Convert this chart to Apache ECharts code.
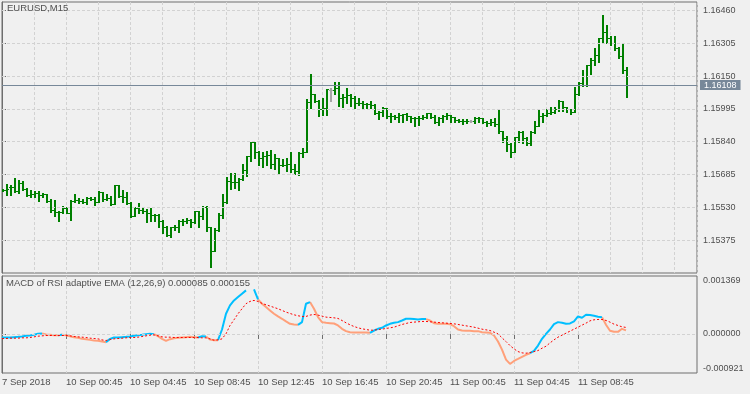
<!DOCTYPE html>
<html><head><meta charset="utf-8">
<script src="https://cdn.jsdelivr.net/npm/echarts@6/dist/echarts.min.js"></script>
<style>html,body{margin:0;padding:0;background:#f0f0f0}#c{width:750px;height:394px}</style>
</head><body><div id="c"></div>
<script>
// ---- data (EURUSD M15 bars, index 0 = first visible bar) ----
const opens=[1.15610,1.15612,1.15624,1.15627,1.15605,1.15643,1.15616,1.15590,1.15591,1.15596,
1.15590,1.15591,1.15561,1.15516,1.15509,1.15507,1.15527,1.15505,1.15561,1.15564,
1.15561,1.15553,1.15575,1.15571,1.15557,1.15602,1.15571,1.15575,1.15546,1.15634,
1.15583,1.15580,1.15552,1.15490,1.15528,1.15517,1.15514,1.15501,1.15495,1.15492,
1.15467,1.15435,1.15397,1.15435,1.15438,1.15467,1.15465,1.15470,1.15460,1.15512,
1.15487,1.15533,1.15435,1.15322,1.15423,1.15495,1.15555,1.15656,1.15648,1.15651,
1.15662,1.15706,1.15773,1.15839,1.15790,1.15762,1.15774,1.15777,1.15737,1.15762,
1.15730,1.15732,1.15737,1.15711,1.15702,1.15787,1.15790,1.16030,1.16064,1.16033,
1.15995,1.15998,1.16083,1.16083,1.16096,1.16045,1.16053,1.16061,1.16045,1.16025,
1.16022,1.16017,1.16020,1.16014,1.15974,1.15979,1.16001,1.15963,1.15962,1.15959,
1.15967,1.15970,1.15963,1.15954,1.15951,1.15954,1.15959,1.15974,1.15959,1.15932,
1.15954,1.15963,1.15967,1.15959,1.15943,1.15938,1.15940,1.15937,1.15937,1.15954,
1.15951,1.15935,1.15930,1.15935,1.15924,1.15892,1.15856,1.15829,1.15793,1.15861,
1.15887,1.15856,1.15832,1.15887,1.15915,1.15962,1.15967,1.15974,1.15982,1.15993,
1.16034,1.16003,1.15993,1.15982,1.16066,1.16120,1.16109,1.16203,1.16227,1.16250,
1.16329,1.16361,1.16329,1.16306,1.16282,1.16246,1.16179];
const highs=[1.15618,1.15640,1.15635,1.15667,1.15659,1.15656,1.15620,1.15612,1.15607,1.15607,
1.15599,1.15591,1.15568,1.15564,1.15512,1.15536,1.15530,1.15564,1.15591,1.15572,
1.15568,1.15577,1.15580,1.15580,1.15607,1.15604,1.15591,1.15583,1.15635,1.15635,
1.15612,1.15604,1.15557,1.15533,1.15549,1.15525,1.15520,1.15525,1.15498,1.15498,
1.15470,1.15441,1.15435,1.15446,1.15470,1.15475,1.15477,1.15473,1.15514,1.15514,
1.15536,1.15536,1.15435,1.15432,1.15501,1.15593,1.15675,1.15691,1.15694,1.15667,
1.15735,1.15773,1.15840,1.15840,1.15796,1.15793,1.15796,1.15801,1.15780,1.15765,
1.15758,1.15765,1.15790,1.15733,1.15790,1.15809,1.16042,1.16161,1.16064,1.16038,
1.16045,1.16090,1.16093,1.16124,1.16121,1.16064,1.16093,1.16064,1.16057,1.16045,
1.16033,1.16025,1.16033,1.16017,1.15985,1.16006,1.16001,1.15974,1.15967,1.15974,
1.15970,1.15974,1.15963,1.15959,1.15963,1.15967,1.15976,1.15976,1.15967,1.15959,
1.15967,1.15974,1.15967,1.15959,1.15948,1.15946,1.15946,1.15943,1.15955,1.15955,
1.15951,1.15940,1.15946,1.15951,1.15990,1.15892,1.15867,1.15832,1.15864,1.15892,
1.15892,1.15864,1.15892,1.15940,1.15993,1.15974,1.15993,1.16003,1.16006,1.16038,
1.16034,1.16003,1.15993,1.16097,1.16124,1.16179,1.16203,1.16235,1.16282,1.16329,
1.16440,1.16392,1.16340,1.16340,1.16290,1.16309,1.16195];
const lows=[1.15605,1.15588,1.15588,1.15604,1.15599,1.15612,1.15583,1.15580,1.15577,1.15561,
1.15580,1.15557,1.15509,1.15490,1.15467,1.15501,1.15504,1.15470,1.15557,1.15552,
1.15549,1.15544,1.15564,1.15541,1.15557,1.15559,1.15564,1.15541,1.15544,1.15580,
1.15557,1.15546,1.15486,1.15489,1.15505,1.15505,1.15462,1.15467,1.15467,1.15438,
1.15410,1.15396,1.15391,1.15423,1.15415,1.15446,1.15457,1.15435,1.15457,1.15435,
1.15473,1.15419,1.15249,1.15322,1.15419,1.15477,1.15552,1.15615,1.15620,1.15612,
1.15659,1.15678,1.15750,1.15765,1.15730,1.15722,1.15730,1.15714,1.15711,1.15691,
1.15727,1.15702,1.15699,1.15686,1.15683,1.15769,1.15790,1.16001,1.16030,1.15963,
1.15967,1.15967,1.16034,1.16064,1.16011,1.16006,1.16025,1.16011,1.16001,1.16014,
1.16001,1.15998,1.15998,1.15971,1.15948,1.15963,1.15951,1.15935,1.15948,1.15935,
1.15932,1.15943,1.15935,1.15916,1.15919,1.15948,1.15951,1.15954,1.15927,1.15919,
1.15935,1.15948,1.15935,1.15932,1.15932,1.15924,1.15927,1.15932,1.15930,1.15934,
1.15927,1.15913,1.15919,1.15915,1.15883,1.15840,1.15798,1.15769,1.15793,1.15840,
1.15836,1.15825,1.15825,1.15883,1.15913,1.15935,1.15962,1.15971,1.15976,1.15987,
1.15987,1.15982,1.15971,1.15982,1.16061,1.16104,1.16104,1.16161,1.16203,1.16219,
1.16309,1.16309,1.16298,1.16274,1.16235,1.16164,1.16053];
const closes=[1.15612,1.15615,1.15627,1.15605,1.15643,1.15616,1.15590,1.15591,1.15596,1.15588,
1.15591,1.15561,1.15517,1.15509,1.15507,1.15527,1.15505,1.15561,1.15564,1.15561,
1.15553,1.15575,1.15571,1.15557,1.15602,1.15571,1.15575,1.15546,1.15634,1.15583,
1.15580,1.15552,1.15490,1.15528,1.15517,1.15514,1.15501,1.15495,1.15492,1.15467,
1.15435,1.15397,1.15435,1.15438,1.15467,1.15465,1.15470,1.15460,1.15512,1.15487,
1.15533,1.15435,1.15322,1.15423,1.15495,1.15555,1.15656,1.15648,1.15651,1.15662,
1.15706,1.15773,1.15839,1.15793,1.15762,1.15774,1.15777,1.15737,1.15762,1.15730,
1.15732,1.15737,1.15711,1.15702,1.15787,1.15790,1.16030,1.16064,1.16033,1.15995,
1.15998,1.16090,1.16083,1.16096,1.16045,1.16053,1.16061,1.16045,1.16025,1.16022,
1.16017,1.16020,1.16014,1.15974,1.15979,1.16001,1.15963,1.15962,1.15959,1.15967,
1.15970,1.15963,1.15954,1.15951,1.15954,1.15959,1.15974,1.15959,1.15932,1.15954,
1.15963,1.15967,1.15959,1.15943,1.15938,1.15940,1.15937,1.15937,1.15954,1.15951,
1.15935,1.15930,1.15935,1.15924,1.15892,1.15856,1.15829,1.15793,1.15861,1.15887,
1.15856,1.15832,1.15887,1.15915,1.15962,1.15967,1.15974,1.15982,1.15993,1.16034,
1.16003,1.15993,1.15982,1.16066,1.16120,1.16109,1.16203,1.16227,1.16250,1.16329,
1.16361,1.16329,1.16306,1.16282,1.16246,1.16179,1.16108];
// MACD of RSI adaptive EMA: main line, signal line, colour state (1 = rising colour)
const macd=[-0.000083,-0.000083,-0.000083,-0.000075,-0.000068,-0.000060,-0.000044,-0.000036,-0.000020,0.000004,
0.000011,-0.000012,-0.000020,-0.000028,-0.000028,-0.000020,-0.000028,-0.000052,-0.000075,-0.000091,
-0.000115,-0.000123,-0.000139,-0.000154,-0.000162,-0.000178,-0.000194,-0.000115,-0.000083,-0.000083,
-0.000075,-0.000068,-0.000060,-0.000044,-0.000028,-0.000020,-0.000004,0.000004,-0.000004,-0.000052,
-0.000115,-0.000162,-0.000123,-0.000099,-0.000091,-0.000083,-0.000075,-0.000068,-0.000075,-0.000083,
-0.000052,-0.000060,-0.000131,-0.000147,-0.000147,0.000106,0.000477,0.000674,0.000793,0.000872,
0.000951,0.001030,null,0.001053,0.000817,0.000714,0.000635,0.000556,0.000477,0.000414,
0.000359,0.000296,0.000240,0.000225,0.000217,0.000280,0.000714,0.000753,0.000596,0.000398,
0.000280,0.000264,0.000256,0.000248,0.000201,0.000122,0.000067,0.000043,0.000035,0.000035,
0.000035,0.000035,0.000027,0.000082,0.000122,0.000146,0.000201,0.000240,0.000264,0.000280,
0.000319,0.000359,0.000359,0.000351,0.000343,0.000351,0.000351,0.000319,0.000256,0.000240,
0.000240,0.000240,0.000232,0.000185,0.000106,0.000082,0.000075,0.000075,0.000067,0.000067,
0.000043,0.000035,0.000027,-0.000036,-0.000178,-0.000368,-0.000604,-0.000707,-0.000636,-0.000589,
-0.000541,-0.000494,-0.000454,-0.000399,-0.000273,-0.000115,0.000004,0.000106,0.000232,0.000280,
0.000264,0.000240,0.000248,0.000296,0.000414,0.000382,0.000453,0.000446,0.000430,0.000406,
0.000398,0.000217,0.000075,0.000051,0.000051,0.000122,0.000085];
const signal=[-0.000107,-0.000107,-0.000099,-0.000099,-0.000099,-0.000091,-0.000091,-0.000083,-0.000068,-0.000052,
-0.000044,-0.000036,-0.000036,-0.000036,-0.000036,-0.000036,-0.000036,-0.000044,-0.000060,-0.000068,
-0.000075,-0.000083,-0.000099,-0.000107,-0.000115,-0.000139,-0.000154,-0.000131,-0.000115,-0.000107,
-0.000099,-0.000091,-0.000083,-0.000083,-0.000075,-0.000060,-0.000044,-0.000028,-0.000020,-0.000044,
-0.000068,-0.000075,-0.000075,-0.000083,-0.000083,-0.000083,-0.000083,-0.000083,-0.000083,-0.000083,
-0.000091,-0.000091,-0.000115,-0.000147,-0.000139,-0.000115,0.000004,0.000201,0.000335,0.000477,
0.000596,0.000714,0.000769,0.000793,0.000769,0.000722,0.000690,0.000659,0.000627,0.000596,
0.000556,0.000517,0.000485,0.000453,0.000430,0.000414,0.000414,0.000446,0.000461,0.000446,
0.000422,0.000398,0.000390,0.000382,0.000367,0.000319,0.000264,0.000217,0.000177,0.000146,
0.000122,0.000106,0.000090,0.000090,0.000106,0.000114,0.000130,0.000146,0.000161,0.000193,
0.000225,0.000248,0.000272,0.000280,0.000288,0.000296,0.000296,0.000288,0.000280,0.000272,
0.000264,0.000256,0.000248,0.000240,0.000225,0.000209,0.000193,0.000177,0.000161,0.000138,
0.000114,0.000098,0.000082,0.000043,0.000004,-0.000091,-0.000178,-0.000273,-0.000352,-0.000415,
-0.000446,-0.000454,-0.000439,-0.000415,-0.000391,-0.000336,-0.000289,-0.000210,-0.000139,-0.000075,
-0.000028,0.000019,0.000067,0.000114,0.000161,0.000209,0.000256,0.000311,0.000335,0.000343,
0.000343,0.000319,0.000280,0.000232,0.000201,0.000169,0.000155];
const macdRising=[1,1,1,1,1,1,1,1,1,1,1, 0,0,0,0, 1, 0,0,0,0,0,0,0,0,0,0,0,
1,1,1,1,1,1,1,1,1,1,1,1, 0,0,0,0,0,0,0,0,0,0,0, 1,1, 0,0,0,
1,1,1,1,1,1,1,1,1,1, 0,0,0,0,0,0,0,0,0,0, 1,1,1,
0,0,0,0,0,0,0,0,0,0,0,0,0,0,0, 1,1,1,1,1,1,1,1,1,1,1,1,1,1,
0,0,0,0,0,0,0,0,0,0,0,0,0,0,0,0,0,0,0,0,0,0,0,0,0,0,
1,1,1,1,1,1,1,1,1,1,1,1,1,1,1,1,1,1, 0,0,0,0,0,0];
const priceTicks=[1.15375,1.15530,1.15685,1.15840,1.15995,1.16150,1.16305,1.16460];
const priceMin=1.15219, priceMax=1.16501;
const lastPrice=1.16108;
const indMin=-0.000921, indMax=0.001369;
const timeTickIdx=[0,16,32,48,64,80,96,112,128,144];
const timeTickText=['7 Sep 2018','10 Sep 00:45','10 Sep 04:45','10 Sep 08:45','10 Sep 12:45','10 Sep 16:45','10 Sep 20:45','11 Sep 00:45','11 Sep 04:45','11 Sep 08:45'];
const symbolLabel='EURUSD,M15';
const indicatorLabel='MACD of RSI adaptive EMA (12,26,9) 0.000085 0.000155';

// ---- build ----
const FONT='"Liberation Sans", Arial, sans-serif';
const TXT='#4f4f4f', BORDER='#6e6e6e', GRIDC='#d2d2d2';
const N=opens.length;
const barData=opens.map((o,i)=>[i,o,highs[i],lows[i],closes[i]]);
const upLine=[], dnLine=[];
for(let i=0;i<N;i++){
  const v=macd[i];
  const nextS=i+1<N?macdRising[i+1]:macdRising[i];
  upLine.push([i,(v!=null&&(macdRising[i]===1||nextS===1))?v:null]);
  dnLine.push([i,(v!=null&&(macdRising[i]===0||nextS===0))?v:null]);
}
const sigData=signal.map((v,i)=>[i,v]);
const xMax=173.75;
const dash=[3,2];

const chart=echarts.init(document.getElementById('c'),null,{renderer:'canvas'});
chart.setOption({
  backgroundColor:'#f0f0f0',
  animation:false,
  textStyle:{fontFamily:FONT},
  grid:[
    {left:2,top:2,width:695,height:271,show:true,borderColor:BORDER,borderWidth:1,backgroundColor:'transparent',outerBoundsMode:'none'},
    {left:2,top:276,width:695,height:97,show:true,borderColor:BORDER,borderWidth:1,backgroundColor:'transparent',outerBoundsMode:'none'}
  ],
  xAxis:[
    {type:'value',gridIndex:0,min:0,max:xMax,interval:8,axisLine:{show:false},axisTick:{show:false},axisLabel:{show:false},
     splitLine:{show:true,lineStyle:{color:GRIDC,type:dash,width:1}}},
    {type:'value',gridIndex:1,min:0,max:xMax,interval:8,axisLine:{show:false},
     axisTick:{show:true,customValues:timeTickIdx,length:5,inside:false,lineStyle:{color:BORDER}},
     axisLabel:{show:true,customValues:timeTickIdx,align:'left',margin:4,color:TXT,fontFamily:FONT,fontSize:9.5,
       formatter:function(v){const k=timeTickIdx.indexOf(Math.round(v));return k>=0?timeTickText[k]:'';}},
     splitLine:{show:true,lineStyle:{color:GRIDC,type:dash,width:1}}}
  ],
  yAxis:[
    {type:'value',gridIndex:0,position:'right',min:priceMin,max:priceMax,scale:true,
     axisLine:{show:true,lineStyle:{color:BORDER}},
     axisTick:{show:true,customValues:priceTicks,length:4,lineStyle:{color:BORDER}},
     axisLabel:{show:true,customValues:priceTicks,margin:6,color:TXT,fontFamily:FONT,fontSize:9,
       formatter:function(v){return v.toFixed(5);}},
     splitLine:{show:false}},
    {type:'value',gridIndex:1,position:'right',min:indMin,max:indMax,scale:true,
     axisLine:{show:true,lineStyle:{color:BORDER}},
     axisTick:{show:true,customValues:[0],length:4,lineStyle:{color:BORDER}},
     axisLabel:{show:true,customValues:[indMin,0,indMax],margin:6,color:TXT,fontFamily:FONT,fontSize:9,
       formatter:function(v){
         if(Math.abs(v-indMax)<1e-9) return '{t|'+indMax.toFixed(6)+'}';
         if(Math.abs(v-indMin)<1e-9) return '{b|'+indMin.toFixed(6)+'}';
         return v.toFixed(6);
       },
       rich:{t:{padding:[9,0,0,0],color:TXT,fontFamily:FONT,fontSize:9},b:{padding:[0,0,9,0],color:TXT,fontFamily:FONT,fontSize:9}}},
     splitLine:{show:false}}
  ],
  graphic:[
    {type:'text',left:7,top:3,z:50,style:{text:symbolLabel,fill:TXT,font:'9.5px '+FONT}},
    {type:'text',left:6,top:278,z:50,style:{text:indicatorLabel,fill:TXT,font:'9.5px '+FONT}}
  ],
  series:[
    {type:'line',name:'hgrid',xAxisIndex:0,yAxisIndex:0,data:[],silent:true,z:1,
     markLine:{silent:true,symbol:['none','none'],animation:false,precision:8,label:{show:false},
       lineStyle:{color:GRIDC,type:dash,width:1},
       data:priceTicks.map(v=>({yAxis:v}))}},
    {type:'line',name:'bid',xAxisIndex:0,yAxisIndex:0,data:[],silent:true,z:2,
     markLine:{silent:true,symbol:['none','none'],animation:false,precision:8,
       lineStyle:{color:'#778899',type:'solid',width:1},
       label:{show:true,position:'end',distance:3,formatter:lastPrice.toFixed(5),color:'#ffffff',backgroundColor:'#778899',
              padding:[1,4,0,4],fontSize:9,lineHeight:9,fontFamily:FONT},
       data:[{yAxis:lastPrice}]}},
    {type:'custom',xAxisIndex:0,yAxisIndex:0,data:barData,z:3,silent:true,clip:true,
     encode:{x:0,y:[1,2,3,4]},
     renderItem:function(params,api){
       const i=api.value(0),o=api.value(1),h=api.value(2),l=api.value(3),c=api.value(4);
       const pH=api.coord([i,h]),pL=api.coord([i,l]),pO=api.coord([i,o]),pC=api.coord([i,c]);
       const cx=Math.round(pH[0]);
       const yH=Math.round(pH[1]),yL=Math.round(pL[1]),yO=Math.round(pO[1]),yC=Math.round(pC[1]);
       const col=(o===c)?'#a6a6a6':'#008000';
       return {type:'group',children:[
         {type:'rect',shape:{x:cx,y:yH,width:2,height:Math.max(1,yL-yH+1)},style:{fill:col}},
         {type:'rect',shape:{x:cx-1,y:yO,width:1,height:1},style:{fill:col}},
         {type:'rect',shape:{x:cx+2,y:yC,width:1,height:1},style:{fill:col}}
       ]};
     }},
    {type:'line',name:'zero',xAxisIndex:1,yAxisIndex:1,data:[],silent:true,z:1,
     markLine:{silent:true,symbol:['none','none'],animation:false,precision:8,label:{show:false},
       lineStyle:{color:GRIDC,type:dash,width:1},
       data:[{yAxis:0}]}},
    {type:'line',xAxisIndex:1,yAxisIndex:1,data:dnLine,symbol:'none',showSymbol:false,connectNulls:false,silent:true,z:3,
     lineStyle:{color:'#FFA07A',width:2}},
    {type:'line',xAxisIndex:1,yAxisIndex:1,data:upLine,symbol:'none',showSymbol:false,connectNulls:false,silent:true,z:4,
     lineStyle:{color:'#00BFFF',width:2}},
    {type:'line',xAxisIndex:1,yAxisIndex:1,data:sigData,symbol:'none',showSymbol:false,silent:true,z:5,
     lineStyle:{color:'#FF0000',width:1,type:[2,2]}}
  ]
});
</script></body></html>
